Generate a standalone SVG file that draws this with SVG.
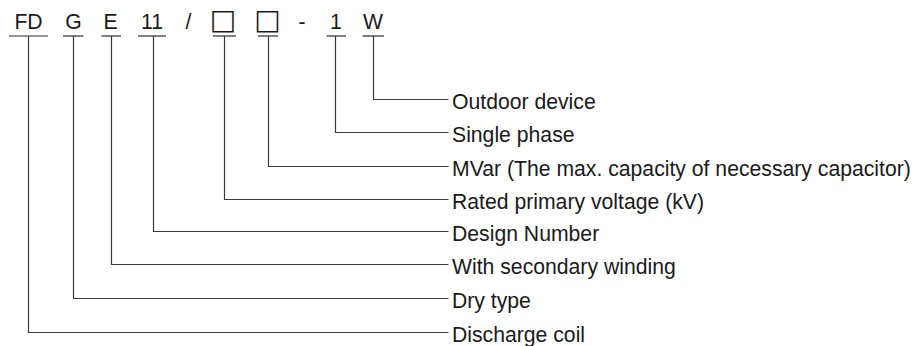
<svg xmlns="http://www.w3.org/2000/svg" width="918" height="346" viewBox="0 0 918 346">
<style>
.t{font-family:"Liberation Sans",Arial,sans-serif;font-size:21.2px;fill:#1a1a1a}
.c{text-anchor:middle}
.b{font-family:"DejaVu Sans",sans-serif;font-size:28px;fill:#1a1a1a;text-anchor:middle}
.u{stroke:#2a2a2a;stroke-width:1.2;fill:none}
.l{stroke:#3a3a3a;stroke-width:1.2;fill:none}
</style>
<rect width="918" height="346" fill="#fff"/>
<g id="code-FD"><text class="t c" x="28.5" y="28.5">FD</text><line class="u" x1="9" y1="36" x2="48" y2="36"/></g>
<g id="code-G"><text class="t c" x="73.5" y="28.5">G</text><line class="u" x1="63" y1="36" x2="83.5" y2="36"/></g>
<g id="code-E"><text class="t c" x="110.5" y="28.5">E</text><line class="u" x1="101.5" y1="36" x2="121" y2="36"/></g>
<g id="code-11"><text class="t c" x="152" y="28.5">11</text><line class="u" x1="138" y1="36" x2="166" y2="36"/></g>
<g id="code-slash"><text class="t c" x="188.5" y="28.5">/</text></g>
<g id="code-box1"><text class="b" x="223" y="29">□</text><line class="u" x1="213" y1="36" x2="236" y2="36"/></g>
<g id="code-box2"><text class="b" x="267.5" y="29">□</text><line class="u" x1="258" y1="36" x2="278" y2="36"/></g>
<g id="code-dash"><text class="t c" x="302" y="28.5">-</text></g>
<g id="code-1"><text class="t c" x="336" y="28.5">1</text><line class="u" x1="326.5" y1="36" x2="346" y2="36"/></g>
<g id="code-W"><text class="t c" x="373" y="28.5">W</text><line class="u" x1="362.5" y1="36" x2="384" y2="36"/></g>
<g id="connectors">
<path class="l" d="M373.5 36V99.5H448.5"/>
<path class="l" d="M335.5 36V132.5H448.5"/>
<path class="l" d="M268.5 36V166.5H448.5"/>
<path class="l" d="M224.5 36V199.5H448.5"/>
<path class="l" d="M153.5 36V231.5H448.5"/>
<path class="l" d="M111.5 36V264.5H448.5"/>
<path class="l" d="M73.5 36V298.5H448.5"/>
<path class="l" d="M28.5 36V332.5H448.5"/>
</g>
<g id="label-outdoor"><text class="t" x="452" y="109">Outdoor device</text></g>
<g id="label-single"><text class="t" x="452" y="142">Single phase</text></g>
<g id="label-mvar"><text class="t" x="452" y="176">MVar (The max. capacity of necessary capacitor)</text></g>
<g id="label-rated"><text class="t" x="452" y="209">Rated primary voltage (kV)</text></g>
<g id="label-design"><text class="t" x="452" y="241">Design Number</text></g>
<g id="label-with"><text class="t" x="452" y="274">With secondary winding</text></g>
<g id="label-dry"><text class="t" x="452" y="308">Dry type</text></g>
<g id="label-discharge"><text class="t" x="452" y="342">Discharge coil</text></g>
</svg>
